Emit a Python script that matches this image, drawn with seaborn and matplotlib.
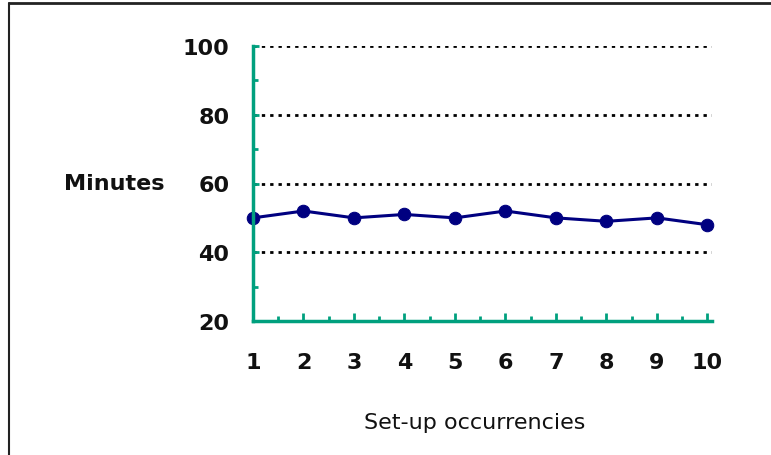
import numpy as np
import pandas as pd
import matplotlib
matplotlib.use("Agg")
import matplotlib.pyplot as plt
from matplotlib.lines import Line2D
from matplotlib.ticker import MultipleLocator
import seaborn as sns

# ── Data ──────────────────────────────────────────────────────────────────────
occurrences = [1, 2, 3, 4, 5, 6, 7, 8, 9, 10]
minutes = [50, 52, 50, 51, 50, 52, 50, 49, 50, 48]
y_ticks = [20, 40, 60, 80, 100]

sns.set_theme(style="white")
plt.rcParams["font.family"] = ["DejaVu Sans"]

TEAL = "#00a07e"
NAVY = "#000080"

df = pd.DataFrame({"occ": occurrences, "min": minutes})

fig = plt.figure(figsize=(7.71, 4.56), dpi=100)
ax = fig.add_axes([253 / 771, 1 - 322 / 456, (712 - 253) / 771, (322 - 47) / 456])

sns.lineplot(data=df, x="occ", y="min", ax=ax, color=NAVY, linewidth=2.2,
             marker="o", markersize=9, markeredgecolor=NAVY, clip_on=False)

ax.set_xlim(1.04, 10.09)
ax.set_ylim(20, 100)
ax.set_xticks(occurrences)
ax.set_yticks(y_ticks)
ax.xaxis.set_minor_locator(MultipleLocator(0.5))
ax.yaxis.set_minor_locator(MultipleLocator(10))

# gridlines: black dotted
ax.yaxis.grid(True, color="black", linestyle=(0, (1.2, 1.8)), linewidth=2)
ax.set_axisbelow(True)

for side in ["top", "right"]:
    ax.spines[side].set_visible(False)
for side in ["left", "bottom"]:
    ax.spines[side].set_color(TEAL)
    ax.spines[side].set_linewidth(2.5)

ax.tick_params(axis="x", which="major", direction="in", length=6, width=2,
               color=TEAL, pad=22, labelsize=16, labelcolor="#111111",
               bottom=True)
ax.tick_params(axis="y", which="major", direction="in", length=4, width=2,
               color=TEAL, pad=17, labelsize=16, labelcolor="#111111",
               left=True)
ax.tick_params(which="minor", direction="in", length=3.5, width=2, color=TEAL,
               bottom=True, left=True)
for lbl in ax.get_xticklabels() + ax.get_yticklabels():
    lbl.set_fontweight("bold")

ax.set_xlabel("Set-up occurrencies", fontsize=16, color="#111111")
ax.xaxis.set_label_coords(0.484, -0.331)
ax.set_ylabel("Minutes", fontsize=16, fontweight="bold", rotation=0,
              ha="center", va="center", color="#111111")
ax.yaxis.set_label_coords(-0.303, 0.502)

# frame around the picture (top and left edges visible)
fig.add_artist(Line2D([8.5 / 771, 1], [1 - 4 / 456, 1 - 4 / 456],
                      transform=fig.transFigure, color="#222222", linewidth=2))
fig.add_artist(Line2D([8.5 / 771, 8.5 / 771], [0, 1 - 4 / 456],
                      transform=fig.transFigure, color="#222222", linewidth=1.5))

fig.savefig("out.png", dpi=100)
